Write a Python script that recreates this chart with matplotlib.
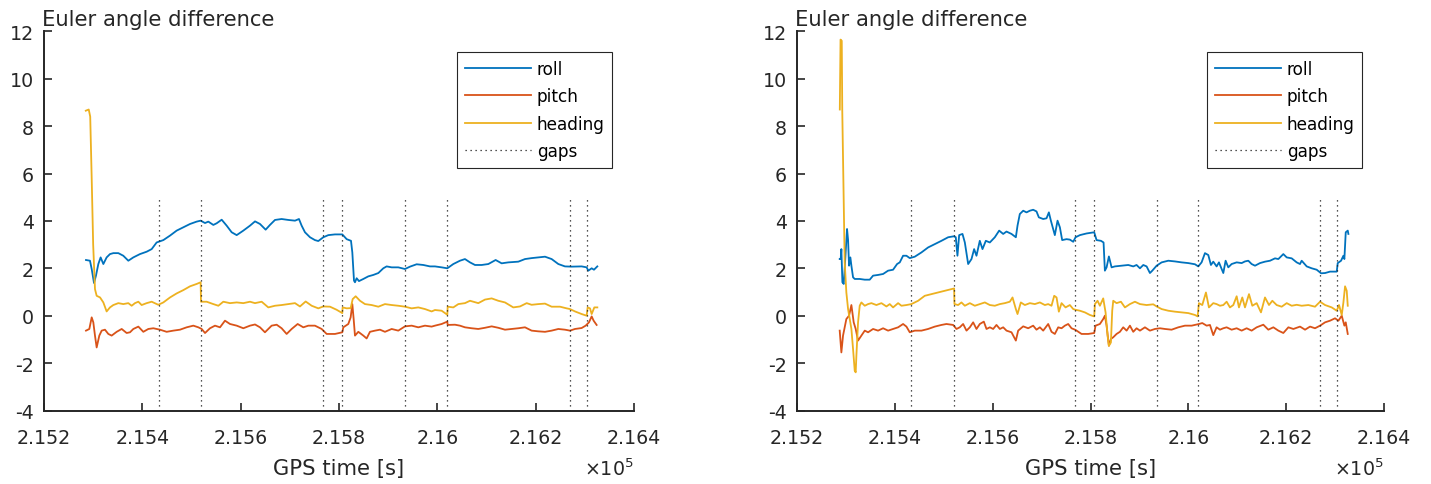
import matplotlib
matplotlib.use("Agg")
import matplotlib.pyplot as plt
from matplotlib.ticker import FuncFormatter

# ---- data (GPS time in s, angle difference) ----
gap_times = [215434, 215520, 215768, 215807, 215935, 216020, 216269, 216304]
gap_lo, gap_hi = -4, 5

# left panel
roll_t_a = [
    215285.4, 215293.5, 215297.0, 215301.7, 215305.7, 215310.5, 215315.2, 215320.7, 215327.4, 215334.2,
    215341.0, 215351.2, 215361.3, 215371.5, 215381.7, 215395.2, 215408.8, 215419.0, 215429.1, 215442.7,
    215456.3, 215469.8, 215483.4, 215497.0, 215510.5, 215518.6, 215527.5, 215534.2, 215544.4, 215551.2,
    215561.4, 215571.5, 215581.7, 215591.9, 215605.4, 215619.0, 215629.2,
    215639.3, 215650.8, 215659.6, 215669.8, 215683.3, 215696.9, 215710.5, 215718.6, 215724.0, 215730.8,
    215741.0, 215751.1, 215757.9, 215768.1, 215778.3, 215791.8, 215806.7, 215815.6, 215824.4, 215827.1,
    215830.5, 215832.5, 215835.9, 215840.6, 215849.5, 215859.6, 215869.8, 215880.0, 215890.1, 215896.9,
    215907.1, 215920.6, 215934.2, 215944.4, 215957.9, 215971.5, 215985.0,
    215995.2, 216008.8, 216020.3, 216032.5, 216046.0, 216056.2, 216066.4, 216076.6, 216090.1, 216103.7,
    216118.6, 216130.8, 216144.4, 216164.7, 216178.3, 216191.8, 216205.4, 216219.0, 216232.5, 216246.1,
    216259.6, 216273.2, 216293.5, 216303.7, 216307.1, 216313.9, 216318.6, 216325.4]
roll_a = [
    2.35, 2.32, 1.97, 1.38, 1.69, 2.18, 2.46, 2.18, 2.46, 2.60,
    2.64, 2.64, 2.53, 2.32, 2.46, 2.60, 2.70, 2.81, 3.09, 3.19,
    3.38, 3.59, 3.73, 3.87, 3.97, 4.01, 3.91, 3.97, 3.83, 3.90,
    4.05, 3.80, 3.52, 3.40, 3.59, 3.80, 3.98,
    3.87, 3.63, 3.83, 4.04, 4.08, 4.04, 4.01, 4.08, 3.80, 3.52,
    3.31, 3.19, 3.15, 3.31, 3.40, 3.43, 3.43, 3.23, 3.16, 2.67,
    1.48, 1.41, 1.58, 1.46, 1.55, 1.66, 1.72, 1.80, 2.00, 2.08,
    2.04, 2.04, 1.97, 2.07, 2.17, 2.14, 2.08,
    2.08, 2.04, 2.00, 2.18, 2.32, 2.39, 2.25, 2.14, 2.14, 2.18,
    2.35, 2.21, 2.25, 2.28, 2.39, 2.43, 2.46, 2.49, 2.39, 2.18,
    2.08, 2.07, 2.08, 2.04, 1.90, 2.00, 1.94, 2.08]

pitch_t_a = [
    215285.4, 215292.2, 215297.0, 215300.3, 215303.7, 215307.1, 215312.5, 215317.3, 215324.0, 215330.8,
    215337.6, 215347.8, 215358.0, 215368.1, 215374.9, 215381.7, 215391.9, 215402.0, 215412.2, 215422.4,
    215435.9, 215449.5, 215463.0, 215476.6, 215490.2, 215503.7, 215513.9, 215520.7, 215527.5, 215537.6,
    215547.8, 215558.0, 215568.1, 215578.3, 215591.9, 215605.4, 215619.0, 215629.2,
    215639.3, 215649.4, 215663.0, 215673.2, 215683.3, 215693.5, 215703.7, 215715.9, 215727.4, 215737.6,
    215751.1, 215764.7, 215774.9, 215791.8, 215806.7, 215808.8, 215818.9, 215823.7, 215827.1, 215829.8,
    215832.5, 215839.3, 215849.5, 215856.2, 215863.0, 215873.2, 215883.4, 215893.5, 215907.1, 215920.6,
    215934.2, 215947.8, 215961.3, 215974.9, 215988.4,
    215995.2, 216008.8, 216020.3, 216021.0, 216035.9, 216046.0, 216056.2, 216069.8, 216083.3, 216096.9,
    216110.5, 216124.0, 216137.6, 216151.1, 216164.7, 216178.3, 216191.8, 216205.4, 216219.0, 216232.5,
    216246.1, 216259.6, 216269.8, 216280.0, 216293.5, 216301.7, 216308.4, 216313.9, 216317.9, 216324.0]
pitch_a = [
    -0.63, -0.56, -0.07, -0.28, -0.84, -1.34, -0.84, -0.63, -0.59, -0.77,
    -0.84, -0.68, -0.56, -0.73, -0.70, -0.56, -0.46, -0.68, -0.56, -0.53,
    -0.59, -0.68, -0.63, -0.59, -0.49, -0.42, -0.49, -0.56, -0.73, -0.53,
    -0.42, -0.49, -0.21, -0.35, -0.42, -0.53, -0.42, -0.37,
    -0.49, -0.70, -0.42, -0.38, -0.53, -0.77, -0.56, -0.35, -0.49, -0.42,
    -0.42, -0.56, -0.77, -0.77, -0.70, -0.49, -0.35, -0.07, 0.49, -0.14,
    -0.84, -0.68, -0.84, -0.96, -0.68, -0.63, -0.59, -0.68, -0.56, -0.63,
    -0.45, -0.42, -0.49, -0.42, -0.46,
    -0.42, -0.35, -0.25, -0.39, -0.38, -0.42, -0.49, -0.53, -0.56, -0.51,
    -0.45, -0.51, -0.59, -0.56, -0.53, -0.49, -0.63, -0.66, -0.68, -0.63,
    -0.56, -0.59, -0.63, -0.56, -0.52, -0.42, -0.28, -0.03, -0.21, -0.39]

heading_t_a = [
    215285.0, 215291.0, 215294.0, 215297.0, 215300.0,
    215303.7, 215307.1, 215314.0, 215320.7, 215327.4, 215334.2, 215341.0, 215351.2, 215361.3, 215371.5,
    215378.3, 215385.0, 215391.9, 215398.6, 215408.8, 215419.0, 215432.5, 215442.7, 215456.3, 215469.8,
    215483.4, 215497.0, 215510.5, 215518.6, 215519.3, 215530.8, 215544.4, 215554.6, 215564.7, 215578.3,
    215591.9, 215605.4, 215619.0,
    215629.1, 215642.7, 215656.2, 215669.8, 215683.3, 215696.9, 215710.5, 215720.6, 215732.2, 215744.4,
    215757.9, 215768.1, 215781.7, 215795.2, 215806.7, 215807.4, 215815.6, 215823.7, 215827.8, 215833.9,
    215842.7, 215852.8, 215866.4, 215880.0, 215893.5, 215907.1, 215920.6, 215934.2, 215947.8, 215961.3,
    215974.9, 215988.4,
    215995.2, 216008.8, 216020.3, 216021.0, 216032.5, 216042.7, 216056.2, 216066.4, 216083.3, 216096.9,
    216110.5, 216124.0, 216137.6, 216154.5, 216168.1, 216181.7, 216191.8, 216205.4, 216219.0, 216232.5,
    216249.5, 216263.0, 216269.8, 216280.0, 216293.5, 216303.7, 216305.7, 216310.5, 216313.9, 216319.3,
    216325.4]
heading_a = [
    8.65, 8.70, 8.40, 5.80, 3.00,
    1.12, 0.84, 0.77, 0.56, 0.18, 0.35, 0.45, 0.53, 0.49, 0.53,
    0.42, 0.53, 0.59, 0.45, 0.53, 0.59, 0.46, 0.56, 0.77, 0.94,
    1.08, 1.24, 1.34, 1.41, 0.59, 0.59, 0.49, 0.42, 0.59, 0.53,
    0.56, 0.53, 0.59,
    0.53, 0.59, 0.35, 0.42, 0.45, 0.49, 0.53, 0.39, 0.60, 0.42,
    0.31, 0.39, 0.38, 0.25, 0.11, 0.35, 0.31, 0.32, 0.70, 0.82,
    0.63, 0.49, 0.45, 0.38, 0.49, 0.45, 0.42, 0.38, 0.31, 0.35,
    0.28, 0.18,
    0.24, 0.21, 0.04, 0.38, 0.35, 0.49, 0.53, 0.63, 0.53, 0.68,
    0.73, 0.63, 0.56, 0.35, 0.39, 0.53, 0.46, 0.49, 0.51, 0.38,
    0.38, 0.31, 0.28, 0.18, 0.07, 0.00, 0.35, 0.31, 0.07, 0.35,
    0.35]

# right panel
roll_t_b = [
    215287.3, 215289.3, 215290.7, 215292.8, 215295.5, 215297.5, 215302.3, 215304.4, 215306.4, 215309.1,
    215311.2, 215314.6, 215318.0, 215328.2, 215338.5, 215348.7, 215355.5, 215365.7, 215376.0, 215386.2,
    215396.4, 215404.6, 215410.1, 215416.9, 215423.7, 215430.5, 215440.8, 215454.4, 215468.0, 215481.7,
    215495.3, 215509.0, 215520.5, 215524.6, 215528.0, 215531.5, 215538.3, 215543.1, 215549.9, 215556.7,
    215562.1, 215566.9, 215573.7, 215579.2, 215586.0, 215594.2, 215604.4, 215613.3, 215621.5, 215628.3,
    215638.5, 215647.4,
    215650.8, 215655.5, 215662.4, 215669.2, 215676.0, 215682.8, 215689.6, 215694.4, 215703.3, 215710.1,
    215714.9, 215719.0, 215723.7, 215727.1, 215732.6, 215737.4, 215742.1, 215751.0, 215757.8, 215764.7,
    215769.4, 215778.3, 215791.9, 215807.6, 215812.4, 215821.3, 215826.7, 215829.4, 215832.9, 215837.6,
    215843.1, 215849.9, 215863.5, 215877.2, 215887.4, 215894.2, 215901.1, 215907.9, 215914.7, 215921.5,
    215926.3, 215935.2, 215945.4, 215959.0, 215972.7, 215986.3, 215999.9, 216013.6,
    216020.3, 216027.1, 216034.0, 216040.8, 216046.2, 216051.0, 216057.8, 216062.6, 216068.1, 216071.5,
    216076.2, 216081.7, 216088.5, 216098.8, 216109.0, 216115.8, 216122.6, 216129.4, 216136.3, 216146.5,
    216156.7, 216167.0, 216177.2, 216184.0, 216194.2, 216201.1, 216211.3, 216221.5, 216228.3, 216231.7,
    216242.0, 216252.2, 216262.4, 216271.3, 216279.5, 216289.7, 216303.4, 216305.4, 216312.2, 216317.0,
    216319.0, 216321.8, 216325.9, 216327.2]
roll_b = [
    2.39, 2.39, 2.81, 1.41, 1.34, 2.00, 3.66, 3.20, 2.11, 2.46,
    2.11, 1.62, 1.55, 1.55, 1.52, 1.52, 1.69, 1.72, 1.76, 1.90,
    1.94, 2.18, 2.25, 2.53, 2.53, 2.43, 2.49, 2.67, 2.88, 3.02,
    3.16, 3.31, 3.35, 3.31, 2.53, 3.40, 3.45, 3.09, 2.18, 2.39,
    2.81, 2.53, 3.16, 2.81, 3.16, 3.09, 3.31, 3.59, 3.45, 3.55,
    3.45, 3.31,
    3.80, 4.29, 4.43, 4.36, 4.43, 4.47, 4.40, 4.15, 4.08, 4.11,
    4.36, 4.01, 3.66, 3.40, 4.01, 3.73, 3.19, 3.23, 3.21, 3.12,
    3.31, 3.40, 3.47, 3.52, 3.19, 3.16, 3.09, 1.90, 2.04, 2.50,
    2.04, 2.08, 2.11, 2.14, 2.08, 2.14, 2.00, 2.14, 2.08, 1.80,
    1.90, 2.11, 2.25, 2.32, 2.29, 2.25, 2.22, 2.17,
    2.08, 2.25, 2.64, 2.56, 2.14, 2.28, 2.08, 2.25, 1.97, 1.80,
    2.32, 2.04, 2.18, 2.25, 2.22, 2.29, 2.32, 2.18, 2.11, 2.22,
    2.28, 2.32, 2.42, 2.39, 2.60, 2.46, 2.42, 2.25, 2.18, 2.32,
    2.08, 2.00, 1.94, 1.79, 1.80, 1.86, 1.86, 2.22, 2.32, 2.53,
    2.39, 3.52, 3.59, 3.45]

pitch_t_b = [
    215287.3, 215290.7, 215294.1, 215300.9, 215306.4, 215311.2, 215315.9, 215320.0, 215324.8, 215331.6,
    215338.5, 215345.3, 215355.5, 215365.7, 215376.0, 215386.2, 215396.4, 215406.7, 215416.9, 215423.7,
    215430.5, 215440.8, 215454.4, 215468.0, 215481.7, 215495.3, 215505.5, 215519.2, 215526.0, 215532.8,
    215539.6, 215546.5, 215553.3, 215560.1, 215566.9, 215573.7, 215581.9, 215587.4, 215594.2, 215601.0,
    215607.8, 215614.7, 215621.5, 215628.3, 215638.5, 215647.4,
    215652.1, 215662.4, 215672.6, 215682.8, 215689.6, 215696.5, 215703.3, 215713.5, 215720.3, 215727.1,
    215734.0, 215740.8, 215747.6, 215754.4, 215761.2, 215769.4, 215781.7, 215795.3, 215807.6, 215810.3,
    215819.2, 215826.0, 215829.4, 215832.9, 215837.6, 215841.7, 215846.5, 215853.3, 215860.1, 215866.9,
    215873.8, 215880.6, 215887.4, 215894.2, 215901.1, 215911.3, 215921.5, 215931.7, 215942.0, 215952.2,
    215965.8, 215979.5, 215993.1, 216006.8, 216021.8,
    216028.5, 216037.4, 216044.2, 216051.0, 216057.8, 216064.7, 216071.5, 216078.3, 216088.5, 216098.8,
    216109.0, 216119.2, 216129.4, 216139.7, 216153.3, 216163.5, 216173.8, 216184.0, 216194.2, 216204.5,
    216214.7, 216228.3, 216238.6, 216248.8, 216259.0, 216269.3, 216279.5, 216289.7, 216299.9, 216306.8,
    216313.6, 216319.0, 216321.8, 216325.9]
pitch_b = [
    -0.63, -1.55, -0.84, -0.14, 0.00, 0.45, -0.28, -0.56, -1.05, -0.84,
    -0.63, -0.70, -0.56, -0.63, -0.53, -0.63, -0.56, -0.49, -0.35, -0.46,
    -0.70, -0.63, -0.63, -0.56, -0.46, -0.39, -0.35, -0.39, -0.56, -0.49,
    -0.35, -0.63, -0.49, -0.28, -0.56, -0.35, -0.25, -0.56, -0.49, -0.56,
    -0.39, -0.56, -0.49, -0.63, -0.70, -1.05,
    -0.63, -0.45, -0.53, -0.42, -0.59, -0.49, -0.63, -0.35, -0.68, -0.77,
    -0.49, -0.53, -0.42, -0.35, -0.53, -0.60, -0.77, -0.77, -0.73, -0.42,
    -0.35, -0.14, 0.00, -0.42, -1.27, -0.98, -0.91, -0.77, -0.68, -0.49,
    -0.63, -0.42, -0.68, -0.53, -0.63, -0.49, -0.63, -0.56, -0.53, -0.56,
    -0.59, -0.49, -0.42, -0.42, -0.35,
    -0.31, -0.42, -0.39, -0.82, -0.49, -0.59, -0.53, -0.49, -0.59, -0.53,
    -0.63, -0.53, -0.63, -0.49, -0.38, -0.59, -0.49, -0.63, -0.73, -0.49,
    -0.56, -0.46, -0.59, -0.46, -0.53, -0.42, -0.28, -0.21, -0.11, -0.21,
    0.00, -0.42, -0.28, -0.77]

heading_t_b = [
    215287.5, 215289.0, 215291.5, 215292.5, 215294.5, 215296.5,
    215297.5, 215300.9, 215304.4, 215307.8, 215311.2, 215314.6, 215318.0, 215320.0, 215321.4, 215324.8,
    215328.2, 215331.6, 215338.5, 215345.3, 215352.1, 215362.3, 215372.6, 215382.8, 215389.6, 215396.4,
    215406.7, 215413.5, 215423.7, 215433.9, 215447.6, 215461.2, 215474.9, 215488.5, 215502.1, 215512.4,
    215521.2, 215521.9, 215529.4, 215536.2, 215543.1, 215553.3, 215563.5, 215573.7, 215584.0, 215594.2,
    215604.4, 215614.7, 215624.9, 215635.1, 215640.6, 215647.4,
    215650.8, 215657.6, 215665.8, 215676.0, 215686.2, 215696.5, 215706.7, 215713.5, 215720.3,
    215725.8, 215730.6, 215735.3, 215740.8, 215749.0, 215757.8, 215764.7, 215769.4, 215778.3, 215788.5,
    215798.8, 215807.6, 215809.0, 215814.4, 215819.2, 215826.0, 215830.8, 215834.9, 215837.6, 215841.7,
    215844.4, 215846.5, 215853.3, 215862.2, 215870.4, 215880.6, 215890.8, 215901.1, 215914.7, 215928.3,
    215935.2, 215945.4, 215959.0, 215972.7, 215986.3, 215999.9, 216013.6,
    216019.0, 216021.7, 216028.5, 216036.0, 216042.1, 216051.0, 216057.8, 216064.7, 216071.5, 216078.3,
    216085.1, 216091.9, 216098.8, 216103.5, 216110.3, 216115.8, 216124.0, 216130.8, 216139.7, 216148.5,
    216156.7, 216164.9, 216171.7, 216180.6, 216190.8, 216201.1, 216211.3, 216221.5, 216231.7, 216245.4,
    216259.0, 216269.3, 216279.5, 216293.1, 216303.4, 216308.1, 216313.6, 216317.0, 216320.4, 216323.8,
    216325.9]
heading_b = [
    8.70, 11.65, 11.60, 8.70, 6.00, 3.50,
    2.25, 0.98, 0.28, -0.14, -0.56, -1.41, -2.32, -2.39, -1.69, -0.28,
    0.42, 0.56, 0.42, 0.49, 0.53, 0.45, 0.53, 0.39, 0.49, 0.35,
    0.53, 0.42, 0.45, 0.49, 0.63, 0.84, 0.91, 0.98, 1.05, 1.10,
    1.15, 0.49, 0.45, 0.56, 0.42, 0.53, 0.42, 0.49, 0.56, 0.45,
    0.42, 0.49, 0.53, 0.59, 0.77, 0.28,
    0.07, 0.56, 0.45, 0.53, 0.49, 0.56, 0.45, 0.49, 0.42,
    0.84, 0.77, 0.17, 0.53, 0.35, 0.45, 0.28, 0.25, 0.21, 0.14,
    0.03, -0.03, 0.49, 0.63, 0.42, 0.73, 0.14, -0.84, -1.27, -1.13,
    0.21, 0.63, 0.53, 0.59, 0.35, 0.49, 0.59, 0.49, 0.45, 0.48,
    0.39, 0.28, 0.21, 0.17, 0.14, 0.11, 0.03,
    -0.03, 0.53, 0.45, 0.98, 0.35, 0.53, 0.49, 0.42, 0.45, 0.59,
    0.35, 0.45, 0.82, 0.35, 0.77, 0.35, 0.91, 0.42, 0.53, 0.14,
    0.77, 0.45, 0.63, 0.45, 0.38, 0.53, 0.42, 0.46, 0.42, 0.45,
    0.38, 0.59, 0.45, 0.35, 0.21, 0.45, 0.03, 0.56, 1.24, 1.05,
    0.42]

# ---- style ----
c_roll = "#0072BD"
c_pitch = "#D95319"
c_heading = "#EDB120"
c_axis = "#262626"

plt.rcParams["font.family"] = ["DejaVu Sans"]
plt.rcParams["axes.unicode_minus"] = False

W, H = 1431, 485
fig = plt.figure(figsize=(W / 100, H / 100), dpi=100)

top_px, bot_px = 32.3, 411.5
panels = [
    (44, 590, roll_t_a, roll_a, pitch_t_a, pitch_a, heading_t_a, heading_a),
    (797, 587, roll_t_b, roll_b, pitch_t_b, pitch_b, heading_t_b, heading_b),
]

for left_px, width_px, rt, rv, pt, pv, ht, hv in panels:
    ax = fig.add_axes([left_px / W, 1 - bot_px / H, width_px / W, (bot_px - top_px) / H])

    ax.plot(rt, rv, color=c_roll, lw=1.3, label="roll")
    ax.plot(pt, pv, color=c_pitch, lw=1.3, label="pitch")
    ax.plot(ht, hv, color=c_heading, lw=1.3, label="heading")
    for i, g in enumerate(gap_times):
        ax.plot([g, g], [gap_lo, gap_hi], color="#1a1a1a", lw=0.9,
                linestyle=(0, (1, 3)), label="gaps" if i == 0 else None)

    ax.set_xlim(215200, 216400)
    ax.set_ylim(-4, 12)
    ax.set_xticks(range(215200, 216401, 200))
    ax.set_yticks(range(-4, 13, 2))
    ax.xaxis.set_major_formatter(FuncFormatter(lambda v, p: f"{v / 1e5:g}"))

    ax.spines["top"].set_visible(False)
    ax.spines["right"].set_visible(False)
    for s in ("left", "bottom"):
        ax.spines[s].set_linewidth(1.4)
        ax.spines[s].set_color(c_axis)
    ax.tick_params(direction="in", length=6, width=1.2, color=c_axis,
                   labelcolor=c_axis, labelsize=13.7)
    ax.tick_params(axis="x", pad=12.8)
    ax.tick_params(axis="y", pad=7.4)

    ax.text(-0.003, 1.0166, "Euler angle difference", transform=ax.transAxes,
            ha="left", va="baseline", fontsize=15.2, color=c_axis)
    ax.text(0.5, -0.168, "GPS time [s]", transform=ax.transAxes,
            ha="center", va="baseline", fontsize=15.2, color=c_axis)
    ax.text(1.0, -0.17, r"$\times10^{5}$", transform=ax.transAxes,
            ha="right", va="baseline", fontsize=13.7, color=c_axis)

    leg = ax.legend(loc="upper right", bbox_to_anchor=(0.9632, 0.9446),
                    borderaxespad=0, fontsize=12.2, handlelength=3.9,
                    handletextpad=0.35, labelspacing=0.55, borderpad=0.45,
                    fancybox=False, framealpha=1)
    leg.get_frame().set_edgecolor(c_axis)
    leg.get_frame().set_linewidth(0.8)

fig.savefig("out.png", dpi=100)
